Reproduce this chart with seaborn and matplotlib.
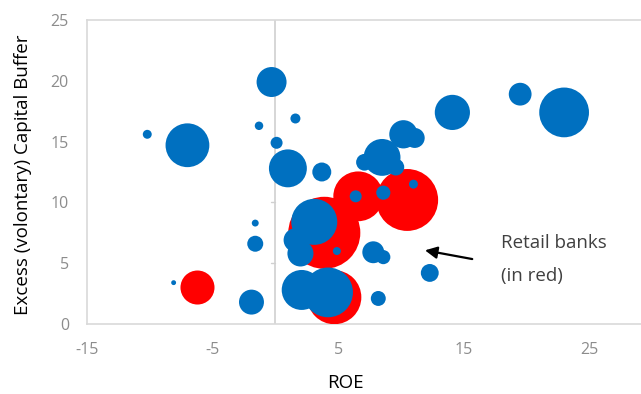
import numpy as np
import pandas as pd
import seaborn as sns
import matplotlib
matplotlib.use('Agg')
import matplotlib.pyplot as plt

# retail banks (red)
retail_roe = [-6.2, 3.9, 6.6, 10.5, 4.7]
retail_buffer = [3.0, 7.5, 10.5, 10.2, 2.2]
retail_assets = [29, 130, 62, 96, 73]

# other banks (blue)
other_roe = [-0.3, -10.2, -7.0, -1.3, 1.6, 0.1, 1.0, 3.7, 19.5, 23.0,
             14.1, 10.2, 11.1, 8.5, 7.1, 9.6, 6.4, 8.6, 11.0, 3.1,
             1.6, 2.0, 4.9, 2.1, 4.2, 8.2, 7.8, 8.6, 12.3, -1.6,
             -1.6, -1.9, -8.1]
other_buffer = [19.9, 15.6, 14.7, 16.3, 16.9, 14.9, 12.8, 12.5, 18.9, 17.4,
                17.4, 15.6, 15.3, 13.7, 13.3, 12.9, 10.5, 10.8, 11.5, 8.4,
                6.9, 5.8, 6.0, 2.8, 2.6, 2.1, 5.9, 5.5, 4.2, 8.3,
                6.6, 1.8, 3.4]
other_assets = [22.5, 2, 48, 1.8, 2.5, 3.6, 36, 9, 13, 62,
                31, 20, 10, 34, 7, 7, 3.6, 5, 2, 53,
                14, 17, 1.6, 40, 62, 5.6, 12, 5, 8, 1.2,
                6.4, 15.6, 0.6]

df = pd.DataFrame({
    'ROE': retail_roe + other_roe,
    'Buffer': retail_buffer + other_buffer,
    'Assets': retail_assets + other_assets,
    'Group': ['Retail'] * len(retail_roe) + ['Other'] * len(other_roe),
})

# ===
# plot
# ===

sns.set_style('white')
plt.rcParams['font.family'] = ['Open Sans', 'DejaVu Sans']
plt.rcParams['axes.unicode_minus'] = False

fig = plt.figure(figsize=(6.41, 3.94), dpi=100)
ax = fig.add_axes([87 / 641, 70 / 394, 565 / 641, 304 / 394])

vmax = max(df['Assets'])
sns.scatterplot(data=df, x='ROE', y='Buffer', hue='Group', size='Assets',
                sizes=(0, 20.7 * vmax), size_norm=(0, vmax),
                palette={'Retail': '#ff0000', 'Other': '#0070c0'},
                linewidth=0, alpha=1, legend=False, ax=ax, zorder=3)

ax.set_xlim(-15, 30)
ax.set_ylim(0, 25)
ax.set_xticks([-15, -5, 5, 15, 25])
ax.set_yticks([0, 5, 10, 15, 20, 25])

for side in ['left', 'top', 'bottom', 'right']:
    ax.spines[side].set_color('#d9d9d9')
    ax.spines[side].set_linewidth(1.2)

ax.axvline(0, color='#d0d0d0', linewidth=1.2, zorder=1)
for yt in [5, 10, 15, 20]:
    ax.plot([-0.35, 0], [yt, yt], color='#d0d0d0', linewidth=1, zorder=1)

ax.tick_params(axis='x', direction='in', length=4, color='#d9d9d9',
               pad=13, labelsize=11.5, labelcolor='#8c8c8c')
ax.tick_params(axis='y', length=0, pad=13, labelsize=11.5,
               labelcolor='#8c8c8c')

ax.set_xlabel('ROE', fontsize=13.5, color='black')
ax.set_ylabel('Excess (volontary) Capital Buffer', fontsize=13.5, color='black')
ax.xaxis.set_label_coords(0.457, -0.165)
ax.yaxis.set_label_coords(-0.097, 0.49)

ax.annotate('', xy=(11.7, 6.1), xytext=(15.9, 5.3),
            arrowprops=dict(arrowstyle='-|>', color='black', lw=1.6,
                            mutation_scale=18), zorder=4)
ax.text(18.0, 6.7, 'Retail banks', fontsize=13.5, color='#404040',
        va='center', ha='left')
ax.text(18.0, 3.95, '(in red)', fontsize=13.5, color='#404040',
        va='center', ha='left')

fig.savefig('out.png', dpi=100)
